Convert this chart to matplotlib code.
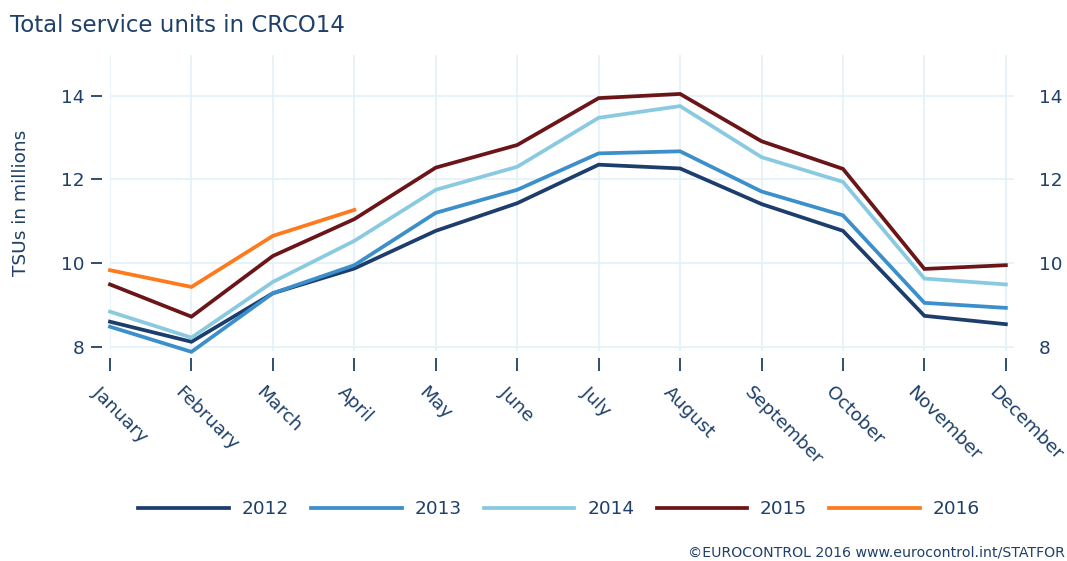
import matplotlib
matplotlib.use("Agg")
import matplotlib.pyplot as plt
import matplotlib.transforms as mtransforms

months = ["January", "February", "March", "April", "May", "June", "July",
          "August", "September", "October", "November", "December"]

tsu_2012 = [8.60, 8.12, 9.28, 9.87, 10.77, 11.43, 12.35, 12.26, 11.41, 10.77, 8.74, 8.54]
tsu_2013 = [8.48, 7.88, 9.28, 9.95, 11.20, 11.75, 12.62, 12.67, 11.71, 11.14, 9.05, 8.93]
tsu_2014 = [8.84, 8.22, 9.55, 10.53, 11.75, 12.30, 13.47, 13.75, 12.53, 11.94, 9.63, 9.49]
tsu_2015 = [9.49, 8.72, 10.17, 11.05, 12.28, 12.82, 13.94, 14.04, 12.91, 12.25, 9.86, 9.95]
tsu_2016 = [9.83, 9.43, 10.65, 11.27]

series = [("2012", tsu_2012, "#1d3e6c"),
          ("2013", tsu_2013, "#3b8fcb"),
          ("2014", tsu_2014, "#8acae0"),
          ("2015", tsu_2015, "#6c1518"),
          ("2016", tsu_2016, "#ff7a1c")]

text_col = "#1f4068"
grid_col = "#e3f1f8"
fs = 13.3

plt.rcParams["font.family"] = ["DejaVu Sans"]

fig = plt.figure(figsize=(10.67, 5.61), dpi=100)
W, H = 1067, 561
ax = fig.add_axes([110 / W, 1 - 351 / H, (1014 - 110) / W, (351 - 55) / H])

for name, vals, col in series:
    ax.plot(range(len(vals)), vals, color=col, lw=2.7, label=name,
            solid_joinstyle="miter", clip_on=False)

ax.set_xlim(0, 11.1)
ax.set_ylim(7.9, 14.97)
ax.set_xticks(range(12))
ax.set_xticklabels(months)
ax.set_yticks([8, 10, 12, 14])
ax.grid(True, color=grid_col, lw=1.2)
ax.set_axisbelow(True)
for s in ax.spines.values():
    s.set_visible(False)
ax.spines["left"].set_position(("outward", 5.5))
ax.spines["bottom"].set_position(("outward", 5))

ax.tick_params(axis="y", direction="out", length=8, width=1.3, color=text_col,
               labelcolor=text_col, labelsize=fs, pad=5)
ax.tick_params(axis="x", direction="out", length=9, width=1.3, color=text_col,
               labelcolor=text_col, labelsize=fs, pad=9)

offset = mtransforms.ScaledTranslation(-8 / 100, 0, fig.dpi_scale_trans)
for lab in ax.get_xticklabels():
    lab.set_rotation(-45)
    lab.set_rotation_mode("anchor")
    lab.set_ha("left")
    lab.set_va("top")
    lab.set_transform(lab.get_transform() + offset)

ax.set_ylabel("TSUs in millions", color=text_col, fontsize=fs, labelpad=22)

# right side labels
ax2 = ax.twinx()
ax2.set_ylim(ax.get_ylim())
ax2.set_yticks([8, 10, 12, 14])
for s in ax2.spines.values():
    s.set_visible(False)
ax2.tick_params(axis="y", length=0, labelcolor=text_col, labelsize=fs, pad=18)

fig.text(10 / W, 1 - 26 / H, "Total service units in CRCO14", color=text_col,
         fontsize=16.5, va="center", ha="left")

handles, labels = ax.get_legend_handles_labels()
fig.legend(handles, labels, ncol=5, loc="center",
           bbox_to_anchor=(559 / W, 1 - 509 / H), frameon=False,
           fontsize=fs, labelcolor=text_col, handlelength=4.9,
           handletextpad=0.7, columnspacing=1.2)

fig.text(1065 / W, 1 - 553 / H, "\u00a9EUROCONTROL 2016 www.eurocontrol.int/STATFOR",
         color=text_col, fontsize=10.2, ha="right", va="center")

fig.savefig("out.png", dpi=100)
